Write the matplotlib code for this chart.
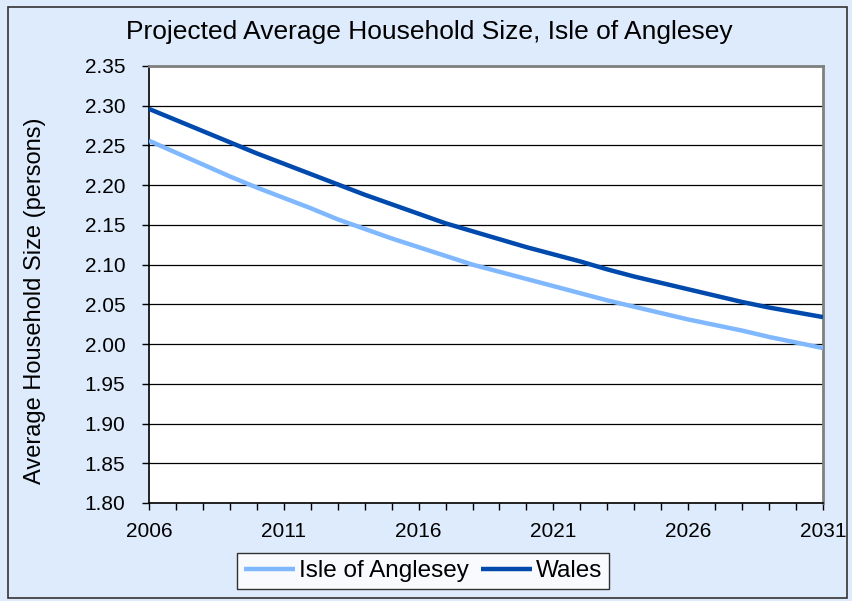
import numpy as np
import matplotlib.pyplot as plt
from matplotlib.ticker import MultipleLocator
from matplotlib.patches import Rectangle

plt.rcParams['font.family'] = ['Liberation Sans', 'DejaVu Sans']

years = list(range(2006, 2032))
anglesey = [2.256, 2.241, 2.226, 2.211, 2.197, 2.184, 2.171, 2.157, 2.145, 2.133,
            2.122, 2.111, 2.100, 2.091, 2.082, 2.073, 2.064, 2.055, 2.047, 2.039,
            2.031, 2.024, 2.017, 2.009, 2.002, 1.995]
wales = [2.296, 2.282, 2.268, 2.254, 2.240, 2.227, 2.214, 2.201, 2.188, 2.176,
         2.164, 2.152, 2.142, 2.132, 2.122, 2.113, 2.104, 2.094, 2.085, 2.077,
         2.069, 2.061, 2.053, 2.046, 2.040, 2.034]
xticks = [2006, 2011, 2016, 2021, 2026, 2031]

bg = '#DDEBFC'
fig = plt.figure(figsize=(8.52, 6.01), dpi=100, facecolor=bg)
fig.patches.append(Rectangle((8/852, 1 - 598/601), 839/852, 591/601,
                             transform=fig.transFigure, fill=False,
                             edgecolor='#333333', linewidth=1.2))

ax = fig.add_axes([149/852, 1 - 503/601, 674/852, 437/601])
ax.set_facecolor('white')
ax.plot(years, anglesey, color='#80B8FF', linewidth=3.2, label='Isle of Anglesey',
        solid_capstyle='butt', zorder=3)
ax.plot(years, wales, color='#004AAD', linewidth=3.2, label='Wales',
        solid_capstyle='butt', zorder=3)

ax.set_xlim(2006, 2031)
ax.set_ylim(1.80, 2.35)
ax.set_xticks(xticks)
ax.xaxis.set_minor_locator(MultipleLocator(1))
ax.yaxis.set_major_locator(MultipleLocator(0.05))
ax.yaxis.set_major_formatter(plt.FormatStrFormatter('%.2f'))
ax.grid(axis='y', color='black', linewidth=0.9)
ax.tick_params(axis='both', which='major', direction='out', length=5, width=1,
               labelsize=15)
ax.tick_params(axis='x', which='minor', direction='out', length=5, width=1)
ax.tick_params(axis='x', pad=9)
ax.tick_params(axis='y', pad=12)
for s in ['left', 'bottom']:
    ax.spines[s].set_color('black')
    ax.spines[s].set_linewidth(1.2)
for s in ['top', 'right']:
    ax.spines[s].set_color('#808080')
    ax.spines[s].set_linewidth(2)

ax.set_ylabel('Average Household Size (persons)', fontsize=17)
ax.yaxis.set_label_coords(35/852, 0.5, transform=fig.transFigure)
ax.yaxis.label.set_va('center')
fig.text(429/852, 1 - 32/601, 'Projected Average Household Size, Isle of Anglesey',
         ha='center', va='center', fontsize=19)

leg = fig.legend(loc='center', bbox_to_anchor=(423/852, 1 - 571/601), ncol=2,
                 fontsize=17.5, frameon=True, fancybox=False, edgecolor='black',
                 handlelength=2.1, handletextpad=0.15, columnspacing=0.5,
                 borderpad=0.3, borderaxespad=0)
leg.get_frame().set_linewidth(1)

fig.savefig('out.png', dpi=100, facecolor=bg)
